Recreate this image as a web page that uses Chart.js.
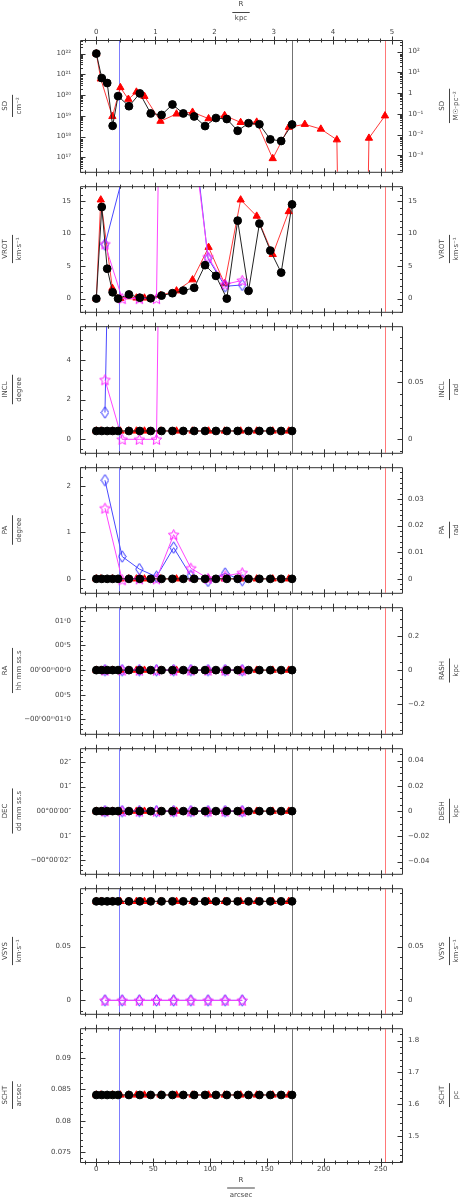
<!DOCTYPE html>
<html><head><meta charset="utf-8">
<script src="https://cdn.jsdelivr.net/npm/chart.js@4"></script>
<style>
html,body{margin:0;padding:0;background:#fff;}
body{width:463px;height:1199px;position:relative;overflow:hidden;}
canvas.p{position:absolute;left:0;}
</style></head><body>
<script>
// ---------------- data ----------------
const R_BLACK = [0, 4.78, 9.56, 14.34, 19.12, 28.68, 38.24, 47.8, 57.36, 66.92, 76.48, 86.04, 95.6, 105.16, 114.72, 124.28, 133.84, 143.4, 152.96, 162.52, 172.08];
const R_RED = [0, 3.9, 14.1, 21.15, 28.2, 35.25, 42.3, 56.4, 70.5, 84.6, 98.7, 112.8, 126.9, 141, 155.1, 169.2, 183.3, 197.4, 211.5, 225.6, 239.7, 253.8];
const R_BLUE = [7.6, 22.7, 37.8, 52.9, 68, 83.1, 98.2, 113.2, 128.3];

const SD_BLACK = [1e22, 6.6e20, 3.8e20, 3.3e18, 8.9e19, 2.9e19, 1.2e20, 1.3e19, 1.1e19, 3.5e19, 1.3e19, 9.3e18, 3.2e18, 7.8e18, 7.0e18, 1.9e18, 4.4e18, 3.9e18, 7.3e17, 6.1e17, 3.8e18];
const SD_RED = [1e22, 6.0e20, 9.3e18, 2.3e20, 6.3e19, 1.4e20, 8.7e19, 5.5e18, 1.23e19, 1.5e19, 7.3e18, 1.04e19, 4.8e18, 5.0e18, 8.7e16, 2.8e18, 3.9e18, 2.3e18, 7.0e17, 0, 8.4e17, 1.0e19];

const VROT_BLACK = [0, 14.1, 4.6, 0.97, 0, 0.64, 0.14, 0.05, 0.46, 0.83, 1.24, 1.66, 5.15, 3.5, 0, 12.0, 1.2, 11.55, 7.4, 4.0, 14.5];
const VROT_RED = [0, 15.2, 1.6, 0.05, 0.3, 0.1, 0.1, 0.5, 1.2, 2.9, 7.9, 2.3, 15.2, 12.7, 6.8, 13.4, null, null, null, null, null, null];
const VROT_BLUE = [8.3, 18.5, 25, 30, 32, 29.5, 6.2, 1.9, 2.1];
const VROT_MAG = [8.4, 0, 0, 0, 185, 27.8, 6.4, 2.2, 2.8];

const INCL_BLACK = [0.42, 0.42, 0.42, 0.42, 0.42, 0.42, 0.42, 0.42, 0.42, 0.42, 0.42, 0.42, 0.42, 0.42, 0.42, 0.42, 0.42, 0.42, 0.42, 0.42, 0.42];
const INCL_RED = [0.42, 0.42, 0.42, 0.42, 0.42, 0.42, 0.42, 0.42, 0.42, 0.42, 0.42, 0.42, 0.42, 0.42, 0.42, 0.42, null, null, null, null, null, null];
const INCL_BLUE = [1.35, 46, 46, 46, 46, 46, 46, 46, 46];
const INCL_MAG = [3.0, 0, 0, 0, 66, 66, 66, 66, 66];

const PA_BLACK = [0, 0, 0, 0, 0, 0, 0, 0, 0, 0, 0, 0, 0, 0, 0, 0, 0, 0, 0, 0, 0];
const PA_RED = [0, 0, 0, 0, 0, 0, 0, 0, 0, 0, 0, 0, 0, 0, 0, 0, null, null, null, null, null, null];
const PA_BLUE = [2.12, 0.48, 0.21, 0.045, 0.67, 0.065, -0.045, 0.116, -0.03];
const PA_MAG = [1.52, -0.02, 0, 0, 0.95, 0.23, 0.01, 0.06, 0.13];

const RA_BLACK = [0, 0, 0, 0, 0, 0, 0, 0, 0, 0, 0, 0, 0, 0, 0, 0, 0, 0, 0, 0, 0];
const RA_RED = [0, 0, 0, 0, 0, 0, 0, 0, 0, 0, 0, 0, 0, 0, 0, 0, null, null, null, null, null, null];
const RA_BLUE = [0, 0, 0, 0, 0, 0, 0, 0, 0];
const RA_MAG = [0, 0, 0, 0, 0, 0, 0, 0, 0];

const DEC_BLACK = [0, 0, 0, 0, 0, 0, 0, 0, 0, 0, 0, 0, 0, 0, 0, 0, 0, 0, 0, 0, 0];
const DEC_RED = [0, 0, 0, 0, 0, 0, 0, 0, 0, 0, 0, 0, 0, 0, 0, 0, null, null, null, null, null, null];
const DEC_BLUE = [0, 0, 0, 0, 0, 0, 0, 0, 0];
const DEC_MAG = [0, 0, 0, 0, 0, 0, 0, 0, 0];

const VSYS_BLACK = [0.092, 0.092, 0.092, 0.092, 0.092, 0.092, 0.092, 0.092, 0.092, 0.092, 0.092, 0.092, 0.092, 0.092, 0.092, 0.092, 0.092, 0.092, 0.092, 0.092, 0.092];
const VSYS_RED = [0.092, 0.092, 0.092, 0.092, 0.092, 0.092, 0.092, 0.092, 0.092, 0.092, 0.092, 0.092, 0.092, 0.092, 0.092, 0.092, null, null, null, null, null, null];
const VSYS_BLUE = [0, 0, 0, 0, 0, 0, 0, 0, 0];
const VSYS_MAG = [0, 0, 0, 0, 0, 0, 0, 0, 0];

const SCHT_BLACK = [0.0841, 0.0841, 0.0841, 0.0841, 0.0841, 0.0841, 0.0841, 0.0841, 0.0841, 0.0841, 0.0841, 0.0841, 0.0841, 0.0841, 0.0841, 0.0841, 0.0841, 0.0841, 0.0841, 0.0841, 0.0841];
const SCHT_RED = [0.0841, 0.0841, 0.0841, 0.0841, 0.0841, 0.0841, 0.0841, 0.0841, 0.0841, 0.0841, 0.0841, 0.0841, 0.0841, 0.0841, 0.0841, 0.0841, null, null, null, null, null, null];

// vertical marker radii (arcsec)
const VLINE_R = [20.2, 172.08, 254.0];

// tick values / labels
const X_TICKS = [0, 50, 100, 150, 200, 250];
const X_LABELS = ['0', '50', '100', '150', '200', '250'];
const K_TICKS = [0, 1, 2, 3, 4, 5];
const K_LABELS = ['0', '1', '2', '3', '4', '5'];

const SD_L_TICKS = [1e17, 1e18, 1e19, 1e20, 1e21, 1e22];
const SD_L_LABELS = ['10¹⁷', '10¹⁸', '10¹⁹', '10²⁰', '10²¹', '10²²'];
const SD_R_TICKS = [1e-3, 1e-2, 1e-1, 1, 10, 100];
const SD_R_LABELS = ['10⁻³', '10⁻²', '10⁻¹', '1', '10¹', '10²'];
const VROT_TICKS = [0, 5, 10, 15];
const VROT_LABELS = ['0', '5', '10', '15'];
const INCL_L_TICKS = [0, 2, 4];
const INCL_L_LABELS = ['0', '2', '4'];
const INCL_R_TICKS = [0, 0.05];
const INCL_R_LABELS = ['0', '0.05'];
const PA_L_TICKS = [0, 1, 2];
const PA_L_LABELS = ['0', '1', '2'];
const PA_R_TICKS = [0, 0.01, 0.02, 0.03];
const PA_R_LABELS = ['0', '0.01', '0.02', '0.03'];
const RA_L_TICKS = [-1, -0.5, 0, 0.5, 1];
const RA_L_LABELS = ['−00ʰ00ᵐ01ˢ0', '00ˢ5', '00ʰ00ᵐ00ˢ0', '00ˢ5', '01ˢ0'];
const RA_R_TICKS = [-0.2, 0, 0.2];
const RA_R_LABELS = ['−0.2', '0', '0.2'];
const DEC_L_TICKS = [-2, -1, 0, 1, 2];
const DEC_L_LABELS = ['−00°00′02″', '01″', '00°00′00″', '01″', '02″'];
const DEC_R_TICKS = [-0.04, -0.02, 0, 0.02, 0.04];
const DEC_R_LABELS = ['−0.04', '−0.02', '0', '0.02', '0.04'];
const VSYS_TICKS = [0, 0.05];
const VSYS_LABELS = ['0', '0.05'];
const SCHT_L_TICKS = [0.075, 0.08, 0.085, 0.09];
const SCHT_L_LABELS = ['0.075', '0.08', '0.085', '0.09'];
const SCHT_R_TICKS = [1.5, 1.6, 1.7, 1.8];
const SCHT_R_LABELS = ['1.5', '1.6', '1.7', '1.8'];

// ---------------- layout / style ----------------
const FONT = 'DejaVu Sans';
const FSIZE = 7;
const TXT = '#444';
const AXIS = '#333';
const PANEL_Y = [40, 179, 319, 460, 600, 741, 881, 1021, 1162];
const X_MIN = -14.36, X_MAX = 268.77;
const K_MIN = -0.2762, K_MAX = 5.1694;
const VLINE_COLORS = ['rgb(125,125,255)', 'rgb(115,115,115)', 'rgb(255,120,120)'];

function starImg(color) {
  const s = 13, c = document.createElement('canvas'); c.width = s; c.height = s;
  const g = c.getContext('2d'); g.strokeStyle = color; g.lineWidth = 1;
  g.beginPath();
  for (let k = 0; k < 10; k++) {
    const r = k % 2 ? 2.6 : 5.6, ang = -Math.PI / 2 + k * Math.PI / 5;
    const px = s / 2 + r * Math.cos(ang), py = s / 2 + 0.5 + r * Math.sin(ang);
    if (k) g.lineTo(px, py); else g.moveTo(px, py);
  }
  g.closePath(); g.stroke(); return c;
}
function diamondImg(color) {
  const w = 9, h = 13, c = document.createElement('canvas'); c.width = w; c.height = h;
  const g = c.getContext('2d'); g.strokeStyle = color; g.lineWidth = 1;
  g.beginPath(); g.moveTo(w / 2, 0.8); g.lineTo(w - 0.8, h / 2); g.lineTo(w / 2, h - 0.8); g.lineTo(0.8, h / 2); g.closePath(); g.stroke();
  return c;
}
const STAR = starImg('#ff22ff');
const DIAM = diamondImg('#2a2aff');

function linMinor(min, max, step, majors) {
  const out = [];
  const k0 = Math.ceil(min / step - 1e-9), k1 = Math.floor(max / step + 1e-9);
  for (let k = k0; k <= k1; k++) {
    const v = +(k * step).toFixed(10);
    if (!majors.some(m => Math.abs(m - v) < step * 1e-3)) out.push(v);
  }
  return out;
}
function logMinor(min, max) {
  const out = [];
  for (let e = Math.floor(Math.log10(min)); e <= Math.ceil(Math.log10(max)); e++)
    for (let k = 2; k <= 9; k++) { const v = k * Math.pow(10, e); if (v >= min && v <= max) out.push(v); }
  return out;
}

const PANELS = [
  { num: 'SD', den: 'cm⁻²', rnum: 'SD', rden: 'M☉·pc⁻²', log: true,
    yMin: 2.0e16, yMax: 4.5e22, rMin: 1.6e-4, rMax: 360,
    lT: SD_L_TICKS, lL: SD_L_LABELS, rT: SD_R_TICKS, rL: SD_R_LABELS,
    black: SD_BLACK, red: SD_RED },
  { num: 'VROT', den: 'km·s⁻¹', rnum: 'VROT', rden: 'km·s⁻¹',
    yMin: -2.03, yMax: 17.3, rMin: -2.03, rMax: 17.3, lStep: 1, rStep: 1,
    lT: VROT_TICKS, lL: VROT_LABELS, rT: VROT_TICKS, rL: VROT_LABELS,
    black: VROT_BLACK, red: VROT_RED, blue: VROT_BLUE, mag: VROT_MAG },
  { num: 'INCL', den: 'degree', rnum: 'INCL', rden: 'rad',
    yMin: -0.68, yMax: 5.7, rMin: -0.01187, rMax: 0.0995, lStep: 0.5, rStep: 0.01,
    lT: INCL_L_TICKS, lL: INCL_L_LABELS, rT: INCL_R_TICKS, rL: INCL_R_LABELS,
    black: INCL_BLACK, red: INCL_RED, blue: INCL_BLUE, mag: INCL_MAG },
  { num: 'PA', den: 'degree', rnum: 'PA', rden: 'rad',
    yMin: -0.30, yMax: 2.40, rMin: -0.00524, rMax: 0.0419, lStep: 0.2, rStep: 0.002,
    lT: PA_L_TICKS, lL: PA_L_LABELS, rT: PA_R_TICKS, rL: PA_R_LABELS,
    black: PA_BLACK, red: PA_RED, blue: PA_BLUE, mag: PA_MAG },
  { num: 'RA', den: 'hh mm ss.s', rnum: 'RASH', rden: 'kpc',
    yMin: -1.292, yMax: 1.277, rMin: -0.3705, rMax: 0.366, lStep: 0.1, rStep: 0.05,
    lT: RA_L_TICKS, lL: RA_L_LABELS, rT: RA_R_TICKS, rL: RA_R_LABELS,
    black: RA_BLACK, red: RA_RED, blue: RA_BLUE, mag: RA_MAG },
  { num: 'DEC', den: 'dd mm ss.s', rnum: 'DESH', rden: 'kpc',
    yMin: -2.545, yMax: 2.556, rMin: -0.0496, rMax: 0.0498, lStep: 0.2, rStep: 0.005,
    lT: DEC_L_TICKS, lL: DEC_L_LABELS, rT: DEC_R_TICKS, rL: DEC_R_LABELS,
    black: DEC_BLACK, red: DEC_RED, blue: DEC_BLUE, mag: DEC_MAG },
  { num: 'VSYS', den: 'km·s⁻¹', rnum: 'VSYS', rden: 'km·s⁻¹',
    yMin: -0.0125, yMax: 0.1042, rMin: -0.0125, rMax: 0.1042, lStep: 0.01, rStep: 0.01,
    lT: VSYS_TICKS, lL: VSYS_LABELS, rT: VSYS_TICKS, rL: VSYS_LABELS,
    black: VSYS_BLACK, red: VSYS_RED, blue: VSYS_BLUE, mag: VSYS_MAG },
  { num: 'SCHT', den: 'arcsec', rnum: 'SCHT', rden: 'pc',
    yMin: 0.07342, yMax: 0.09474, rMin: 1.418, rMax: 1.839, lStep: 0.001, rStep: 0.02,
    lT: SCHT_L_TICKS, lL: SCHT_L_LABELS, rT: SCHT_R_TICKS, rL: SCHT_R_LABELS,
    black: SCHT_BLACK, red: SCHT_RED }
];

function pts(rs, vs, log) {
  return rs.map((r, i) => ({ x: r, y: vs[i] === null ? null : (log && vs[i] <= 0 ? 1e-30 : vs[i]) }));
}

function frac(ctx, cx, cy, num, den, rot, dn, dd) {
  ctx.save();
  ctx.translate(cx, cy);
  if (rot) ctx.rotate(-Math.PI / 2);
  ctx.font = FSIZE + 'px "' + FONT + '"';
  ctx.fillStyle = TXT; ctx.strokeStyle = TXT; ctx.lineWidth = 1;
  ctx.textAlign = 'center'; ctx.textBaseline = 'middle';
  const L = Math.max(ctx.measureText(num).width, ctx.measureText(den).width) + 5;
  ctx.fillText(num, 0, -dn);
  ctx.fillText(den, 0, dd);
  ctx.beginPath(); ctx.moveTo(-L / 2, 0.5); ctx.lineTo(L / 2, 0.5); ctx.stroke();
  ctx.restore();
}

function drawVLines(chart) {
  const { ctx, chartArea: a, scales } = chart;
  for (let i = 0; i < VLINE_R.length; i++) {
    const px = Math.round(scales.x.getPixelForValue(VLINE_R[i])) + 0.5;
    ctx.save();
    ctx.lineWidth = 1;
    ctx.strokeStyle = VLINE_COLORS[i];
    ctx.beginPath(); ctx.moveTo(px, a.top + 1); ctx.lineTo(px, a.bottom); ctx.stroke();
    ctx.restore();
  }
}

const gipsy = {
  id: 'gipsy',
  beforeDatasetsDraw(chart) { drawVLines(chart); },
  afterDraw(chart, args, o) {
    const { ctx, chartArea: a, scales } = chart;
    const P = o.panel;
    ctx.save();
    ctx.strokeStyle = AXIS; ctx.lineWidth = 1;
    const L = a.left + 0.5, R = a.right + 0.5, T = a.top + 0.5, B = a.bottom + 0.5;
    ctx.beginPath(); ctx.moveTo(L, T); ctx.lineTo(R, T); ctx.lineTo(R, B); ctx.lineTo(L, B); ctx.closePath(); ctx.stroke();
    const seg = (x1, y1, x2, y2) => { ctx.beginPath(); ctx.moveTo(x1, y1); ctx.lineTo(x2, y2); ctx.stroke(); };
    const yl = scales.y, yr = scales.yr;
    const lMin = P.log ? logMinor(P.yMin, P.yMax) : linMinor(P.yMin, P.yMax, P.lStep, P.lT);
    const rMin = P.log ? logMinor(P.rMin, P.rMax) : linMinor(P.rMin, P.rMax, P.rStep, P.rT);
    P.lT.forEach(v => { const p = Math.round(yl.getPixelForValue(v)) + 0.5; seg(L, p, L + 5, p); });
    lMin.forEach(v => { const p = Math.round(yl.getPixelForValue(v)) + 0.5; seg(L, p, L + 2.5, p); });
    P.rT.forEach(v => { const p = Math.round(yr.getPixelForValue(v)) + 0.5; seg(R, p, R - 5, p); });
    rMin.forEach(v => { const p = Math.round(yr.getPixelForValue(v)) + 0.5; seg(R, p, R - 2.5, p); });
    const xs = scales.x, xk = scales.xk;
    X_TICKS.forEach(v => { const p = Math.round(xs.getPixelForValue(v)) + 0.5; seg(p, B - 4, p, B + 4); });
    linMinor(X_MIN, X_MAX, 10, X_TICKS).forEach(v => { const p = Math.round(xs.getPixelForValue(v)) + 0.5; seg(p, B - 2, p, B + 2); });
    K_TICKS.forEach(v => { const p = Math.round(xk.getPixelForValue(v)) + 0.5; seg(p, T - 4, p, T + 4); });
    linMinor(K_MIN, K_MAX, 0.2, K_TICKS).forEach(v => { const p = Math.round(xk.getPixelForValue(v)) + 0.5; seg(p, T - 2, p, T + 2); });
    const cy = (a.top + a.bottom) / 2;
    frac(ctx, 12, cy, P.num, P.den, true, 6.5, 7.5);
    frac(ctx, 449, cy, P.rnum, P.rden, true, 6.5, 7);
    if (o.first) frac(ctx, (a.left + a.right) / 2, 12, 'R', 'kpc', false, 8, 6.5);
    if (o.last) frac(ctx, (a.left + a.right) / 2, a.bottom + 25.5, 'R', 'arcsec', false, 7, 8);
    ctx.restore();
  }
};

function yAxis(P, side) {
  const left = side === 'l';
  const ticksV = left ? P.lT : P.rT, labels = left ? P.lL : P.rL;
  return {
    type: P.log ? 'logarithmic' : 'linear',
    position: left ? 'left' : 'right',
    min: left ? P.yMin : P.rMin, max: left ? P.yMax : P.rMax,
    grid: { display: false, drawTicks: false }, border: { display: false },
    afterBuildTicks: s => { s.ticks = ticksV.map(v => ({ value: v })); },
    afterFit: s => { s.width = left ? 80 : 61; },
    ticks: { font: { family: FONT, size: FSIZE }, color: TXT, padding: left ? 9 : 6, autoSkip: false, maxRotation: 0,
      callback: (v, i) => labels[i] }
  };
}

PANELS.forEach((P, idx) => {
  const first = idx === 0, last = idx === PANELS.length - 1;
  const T = PANEL_Y[idx], Bt = PANEL_Y[idx + 1];
  const top = first ? 0 : T - 6;
  const bottom = last ? 1199 : Bt + 6;
  const cv = document.createElement('canvas');
  cv.className = 'p'; cv.width = 463; cv.height = bottom - top; cv.style.top = top + 'px';
  document.body.appendChild(cv);
  const ds = [];
  const common = { borderWidth: 1, tension: 0, fill: false, pointBorderWidth: 1 };
  ds.push(Object.assign({ data: pts(R_BLACK, P.black, P.log), borderColor: '#222', pointBackgroundColor: '#000', pointBorderColor: '#000',
    pointStyle: 'circle', pointRadius: 3.9 }, common));
  if (P.mag) ds.push(Object.assign({ data: pts(R_BLUE, P.mag, P.log), borderColor: '#ff44ff', pointStyle: STAR, pointRadius: 5 }, common));
  if (P.blue) ds.push(Object.assign({ data: pts(R_BLUE, P.blue, P.log), borderColor: '#4848ff', pointStyle: DIAM, pointRadius: 5 }, common));
  ds.push(Object.assign({ data: pts(R_RED, P.red, P.log), borderColor: '#ff3a3a', pointBackgroundColor: '#ff0000', pointBorderColor: '#ff0000',
    pointStyle: 'triangle', pointRadius: 4.2 }, common));
  new Chart(cv, {
    type: 'line',
    data: { datasets: ds },
    plugins: [gipsy],
    options: {
      responsive: false, animation: false, devicePixelRatio: 1, events: [],
      layout: { padding: { top: first ? 0 : 6, bottom: last ? 0 : 6, left: 0, right: 0 } },
      plugins: { legend: { display: false }, tooltip: { enabled: false }, gipsy: { panel: P, first, last } },
      scales: {
        x: { type: 'linear', position: 'bottom', min: X_MIN, max: X_MAX, display: last,
          grid: { display: false, drawTicks: false }, border: { display: false },
          afterBuildTicks: s => { s.ticks = X_TICKS.map(v => ({ value: v })); },
          afterFit: s => { s.height = last ? 1199 - PANEL_Y[8] : 0; },
          ticks: { font: { family: FONT, size: FSIZE }, color: TXT, padding: 3, autoSkip: false, maxRotation: 0,
            callback: (v, i) => X_LABELS[i] } },
        xk: { type: 'linear', position: 'top', min: K_MIN, max: K_MAX, display: first,
          grid: { display: false, drawTicks: false }, border: { display: false },
          afterBuildTicks: s => { s.ticks = K_TICKS.map(v => ({ value: v })); },
          afterFit: s => { s.height = first ? PANEL_Y[0] : 0; },
          ticks: { font: { family: FONT, size: FSIZE }, color: TXT, padding: 4, autoSkip: false, maxRotation: 0,
            callback: (v, i) => K_LABELS[i] } },
        y: yAxis(P, 'l'),
        yr: yAxis(P, 'r')
      }
    }
  });
});
</script>
</body></html>
